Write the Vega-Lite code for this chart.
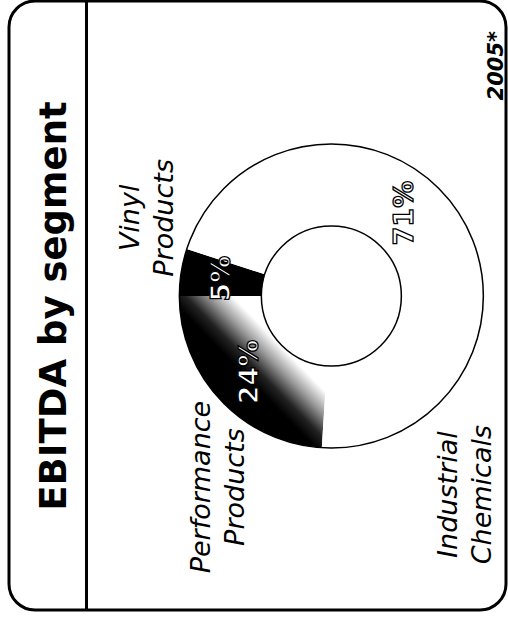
{
  "$schema": "https://vega.github.io/schema/vega-lite/v6.json",
  "width": 508,
  "height": 625,
  "autosize": {"type": "fit", "contains": "padding"},
  "padding": {"left": 9, "top": 1, "right": 1, "bottom": 15},
  "background": "white",
  "title": {
    "text": "2005*",
    "orient": "right",
    "anchor": "start",
    "angle": 270,
    "align": "right",
    "baseline": "alphabetic",
    "offset": -24,
    "dx": -30,
    "font": "DejaVu Sans",
    "fontSize": 21,
    "fontWeight": "bold",
    "fontStyle": "italic",
    "color": "black"
  },
  "config": {"view": {"stroke": "black", "strokeWidth": 3, "cornerRadius": 26}},
  "data": {
    "values": [
      {"segment": "Performance Products", "share": 24, "label": "24%", "year": "2005", "rank": 1},
      {"segment": "Vinyl Products", "share": 5, "label": "5%", "year": "2005", "rank": 2},
      {"segment": "Industrial Chemicals", "share": 71, "label": "71%", "year": "2005", "rank": 3}
    ]
  },
  "encoding": {
    "x": {"field": "year", "type": "nominal", "scale": {"type": "point", "padding": 0, "align": 0.6486}, "axis": null},
    "y": {
      "field": "year",
      "type": "nominal",
      "scale": {"type": "point", "padding": 0, "align": 0.4844},
      "axis": {
        "orient": "left",
        "offset": -77,
        "domain": true,
        "domainColor": "black",
        "domainWidth": 3,
        "ticks": false,
        "labels": false,
        "grid": false,
        "title": "EBITDA by segment",
        "titleFont": "DejaVu Sans",
        "titleFontSize": 37,
        "titleFontWeight": "bold",
        "titleColor": "black",
        "titleAngle": 270,
        "titleBaseline": "alphabetic",
        "titlePadding": 21
      }
    }
  },
  "layer": [
    {
      "mark": {"type": "arc", "outerRadius": 152, "innerRadius": 70, "stroke": null},
      "encoding": {
        "theta": {"field": "share", "type": "quantitative", "stack": true, "scale": {"domain": [0, 100], "range": [3.2044, 9.4876]}},
        "order": {"field": "rank", "type": "quantitative"},
        "fill": {
          "condition": {
            "test": "datum.segment === 'Performance Products'",
            "value": {
              "gradient": "linear",
              "x1": 0, "y1": 1, "x2": 1, "y2": 0,
              "stops": [
                {"offset": 0, "color": "#000000"},
                {"offset": 0.46, "color": "#000000"},
                {"offset": 0.52, "color": "#222222"},
                {"offset": 0.6, "color": "#999999"},
                {"offset": 0.68, "color": "#ffffff"},
                {"offset": 1, "color": "#ffffff"}
              ]
            }
          },
          "field": "segment",
          "type": "nominal",
          "scale": {"domain": ["Performance Products", "Vinyl Products", "Industrial Chemicals"], "range": ["#000000", "#000000", "#ffffff"]},
          "legend": null
        }
      }
    },
    {
      "transform": [{"filter": "datum.rank === 3"}],
      "mark": {"type": "arc", "theta": 0, "theta2": 6.2832, "outerRadius": 152, "innerRadius": 70, "fill": null, "stroke": "black", "strokeWidth": 1.5}
    },
    {
      "mark": {
        "type": "text",
        "radius": 111,
        "angle": 270,
        "font": "DejaVu Sans",
        "fontSize": 27,
        "fontWeight": "bold",
        "fill": "white",
        "stroke": "black",
        "strokeWidth": 1.3,
        "align": "center",
        "baseline": "middle",
        "thetaOffset": {"expr": "datum.segment === 'Industrial Chemicals' ? -0.246 : 0"}
      },
      "encoding": {
        "theta": {"field": "share", "type": "quantitative", "stack": true},
        "order": {"field": "rank", "type": "quantitative"},
        "text": {"field": "label", "type": "nominal"}
      }
    },
    {
      "mark": {
        "type": "text",
        "angle": 270,
        "font": "DejaVu Sans",
        "fontSize": 27,
        "fontStyle": "italic",
        "fill": "black",
        "align": "center",
        "baseline": "middle",
        "lineBreak": " ",
        "lineHeight": 34,
        "radius": {"expr": "datum.segment === 'Vinyl Products' ? 215 : 231"},
        "thetaOffset": {"expr": "datum.segment === 'Vinyl Products' ? 0.215 : datum.segment === 'Performance Products' ? -0.22 : 1.632"}
      },
      "encoding": {
        "theta": {"field": "share", "type": "quantitative", "stack": true},
        "order": {"field": "rank", "type": "quantitative"},
        "text": {"field": "segment", "type": "nominal"}
      }
    }
  ]
}
